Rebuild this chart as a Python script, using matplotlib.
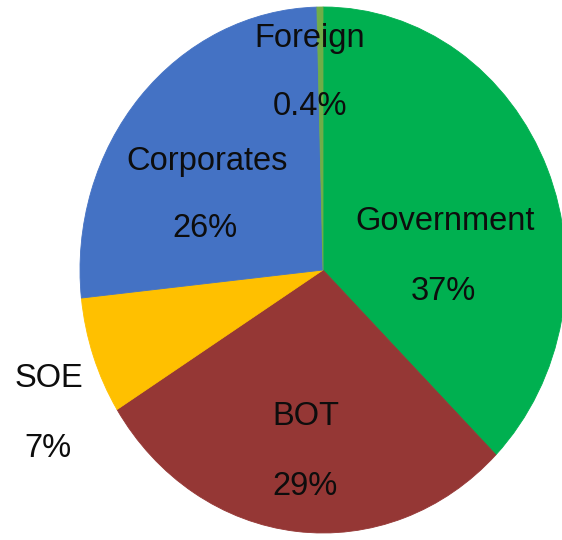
import matplotlib
matplotlib.use("Agg")
import matplotlib.pyplot as plt

# ---- data ----
categories = ["Government", "BOT", "SOE", "Corporates", "Foreign"]
values = [37.4, 28.7, 7.2, 26.3, 0.4]
colors = ["#00B050", "#953735", "#FFC000", "#4472C4", "#70AD47"]

# ---- layout (pixel positions of label baselines, reference 562x540) ----
W, H = 562, 540
cx, cy, rx, ry = 323, 270, 243, 263
label_pos = {
    "Government": ((445, 230), (443, 300)),
    "BOT": ((306, 425), (305, 495)),
    "SOE": ((49, 387), (48, 457)),
    "Corporates": ((207, 170), (205, 237)),
    "Foreign": ((310, 47), (310, 115)),
}

plt.rcParams["font.family"] = ["Liberation Sans", "DejaVu Sans"]
fig = plt.figure(figsize=(W / 100, H / 100), dpi=100)
ax = fig.add_axes([(cx - rx) / W, (H - cy - ry) / H, 2 * rx / W, 2 * ry / H])

wedges, _ = ax.pie(values, colors=colors, startangle=90, counterclock=False,
                   wedgeprops=dict(linewidth=0.6))
for w, c in zip(wedges, colors):
    w.set_edgecolor(c)
ax.set_aspect("auto")
ax.set_xlim(-1, 1)
ax.set_ylim(-1, 1)
ax.axis("off")


def to_data(px, py):
    return (px - cx) / rx, (cy - py) / ry


def fmt(v):
    return f"{v:.1f}%" if v < 1 else f"{v:.0f}%"


for name, v in zip(categories, values):
    (n_px, n_py), (p_px, p_py) = label_pos[name]
    x, y = to_data(n_px, n_py)
    ax.text(x, y, name, ha="center", va="baseline", fontsize=23.5,
            color="#0d0d0d")
    x, y = to_data(p_px, p_py)
    ax.text(x, y, fmt(v), ha="center", va="baseline", fontsize=23.5,
            color="#0d0d0d")

fig.savefig("out.png", dpi=100)
